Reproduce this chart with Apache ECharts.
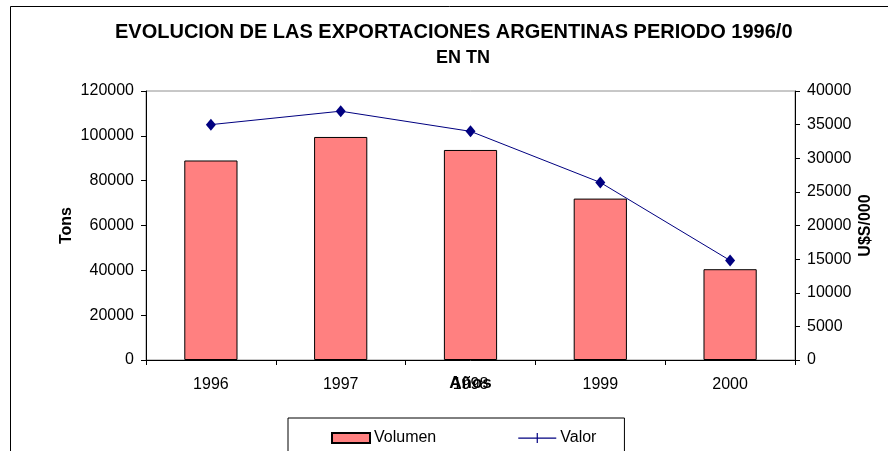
<!DOCTYPE html>
<html>
<head>
<meta charset="utf-8">
<title>Exportaciones argentinas</title>
<script src="https://cdn.jsdelivr.net/npm/echarts@6/dist/echarts.min.js"></script>
<style>
  html, body { margin: 0; padding: 0; background: #fff; }
  #chart { width: 888px; height: 451px; }
</style>
</head>
<body>
<div id="chart"></div>
<script>
// datos
var years = ['1996', '1997', '1998', '1999', '2000']
var volumen = [89000, 99500, 93700, 72000, 40500]   // Tons (eje izquierdo)
var valor = [35000, 37000, 34000, 26400, 14800]     // U$S/000 (eje derecho)

var font = 'Liberation Sans, Arial, sans-serif'
var chart = echarts.init(document.getElementById('chart'))

// etiquetas sin separador de miles, como en Excel
function plain (v) {
  return String(v)
}

chart.setOption({
  animation: false,
  backgroundColor: '#fff',
  textStyle: { fontFamily: font },
  title: [
    {
      // el titulo original sale cortado en el borde derecho
      text: 'EVOLUCION DE LAS EXPORTACIONES ARGENTINAS PERIODO 1996/00',
      left: 115,
      top: 22,
      padding: 0,
      textStyle: {
        fontFamily: font, fontSize: 20, fontWeight: 'bold', color: '#000',
        width: 680, overflow: 'truncate', ellipsis: ''
      }
    },
    {
      text: 'EN TN',
      left: 463,
      top: 49,
      padding: 0,
      textAlign: 'center',
      textStyle: { fontFamily: font, fontSize: 18, fontWeight: 'bold', color: '#000' }
    }
  ],
  graphic: [
    {
      type: 'rect',
      z: -1,
      shape: { x: 10.5, y: 6.5, width: 900, height: 500 },
      style: { fill: 'none', stroke: '#000', lineWidth: 1 }
    }
  ],
  legend: {
    left: 288,
    top: 418,
    orient: 'horizontal',
    padding: [12, 28, 20, 43],
    borderColor: '#000',
    borderWidth: 1,
    itemGap: 82,
    itemWidth: 38,
    itemHeight: 10,
    textStyle: { fontFamily: font, fontSize: 16, color: '#000', padding: [0, 0, 0, -1] },
    data: [
      { name: 'Volumen', icon: 'rect' },
      { name: 'Valor', icon: 'path://M0,4.5h38v1.2h-38z M18.4,0h1.2v10h-1.2z', itemStyle: { color: '#000080' } }
    ]
  },
  grid: {
    left: 146,
    right: 93,
    top: 91,
    bottom: 91,
    show: true,
    borderColor: '#909090',
    borderWidth: 1
  },
  xAxis: {
    type: 'category',
    data: years,
    name: 'Años',
    nameLocation: 'middle',
    nameGap: 15,
    nameMoveOverlap: false,
    nameTextStyle: { fontFamily: font, fontSize: 17, fontWeight: 'bold', color: '#000' },
    axisLine: { lineStyle: { color: '#000', width: 1 } },
    axisTick: { show: true, length: 5, alignWithLabel: false, lineStyle: { color: '#000' } },
    axisLabel: { fontFamily: font, fontSize: 16, color: '#000', margin: 17 }
  },
  yAxis: [
    {
      type: 'value',
      min: 0,
      max: 120000,
      interval: 20000,
      name: 'Tons',
      nameLocation: 'middle',
      nameRotate: 90,
      nameGap: 71,
      nameMoveOverlap: false,
      nameTextStyle: { fontFamily: font, fontSize: 16, fontWeight: 'bold', color: '#000' },
      axisLine: { show: true, lineStyle: { color: '#000', width: 1 } },
      axisTick: { show: true, length: 5, lineStyle: { color: '#000' } },
      axisLabel: { fontFamily: font, fontSize: 16, color: '#000', margin: 12, formatter: plain },
      splitLine: { show: false }
    },
    {
      type: 'value',
      min: 0,
      max: 40000,
      interval: 5000,
      name: 'U$S/000',
      nameLocation: 'middle',
      nameRotate: 90,
      nameGap: 63,
      nameMoveOverlap: false,
      nameTextStyle: { fontFamily: font, fontSize: 16, fontWeight: 'bold', color: '#000' },
      axisLine: { show: true, lineStyle: { color: '#000', width: 1 } },
      axisTick: { show: true, length: 5, lineStyle: { color: '#000' } },
      axisLabel: { fontFamily: font, fontSize: 16, color: '#000', margin: 12, formatter: plain },
      splitLine: { show: false }
    }
  ],
  series: [
    {
      name: 'Volumen',
      type: 'bar',
      yAxisIndex: 0,
      data: volumen,
      barWidth: '41%',
      itemStyle: { color: '#FF8080', borderColor: '#000', borderWidth: 1 }
    },
    {
      name: 'Valor',
      type: 'line',
      yAxisIndex: 1,
      data: valor,
      symbol: 'diamond',
      symbolSize: [10, 12],
      lineStyle: { color: '#000080', width: 1 },
      itemStyle: { color: '#000080' }
    }
  ]
})
</script>
</body>
</html>
